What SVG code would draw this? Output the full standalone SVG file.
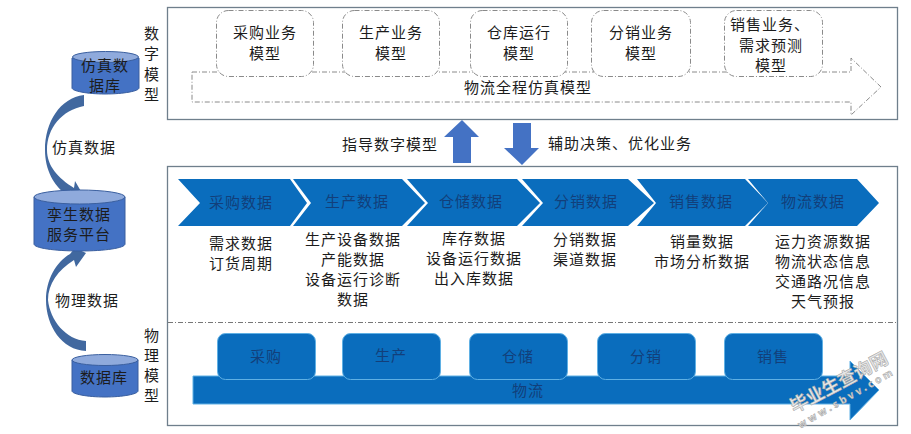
<svg xmlns="http://www.w3.org/2000/svg" width="911" height="434" viewBox="0 0 911 434">
<style>
text{font-family:"Noto Sans CJK SC","Liberation Sans",sans-serif;text-anchor:middle;fill:#1c1c1c}
.t{font-size:15px;letter-spacing:1px}
.d{font-size:15px;letter-spacing:1px;fill:#123f7a}
.frame{fill:#fff;stroke:#6f7f8c;stroke-width:1.3}
.dash{fill:#fff;stroke:#8a8a8a;stroke-width:1;stroke-dasharray:5 2 1 2}
.chev{fill:#0a6dbd}
.blk{fill:#0a6dbd;stroke:#5fb0e4;stroke-width:1}
.cyl{fill:#4472c4;stroke:#3a5f9f;stroke-width:1}
.top{fill:#8faadc;stroke:#3a5f9f;stroke-width:1}
.curve{fill:#41689f}
.big{fill:#4472c4}
.wm{fill:#e6e6e6;stroke:#a0a0a0;stroke-width:.5;font-weight:700}
</style>
<rect width="911" height="434" fill="#fff"/>
<rect id="digital-frame" class="frame" x="167.5" y="7.5" width="730" height="112"/>
<rect id="physical-frame" class="frame" x="167.5" y="166.500" width="730" height="259"/>
<line x1="168" y1="322.500" x2="897" y2="322.500" stroke="#777" stroke-width="1" stroke-dasharray="5 2 1 2"/>

<g id="sim-arrow"><path class="dash" d="M192 72H851V58L881 87L851 115V102H192Z"/><text class="t" x="528" y="93">物流全程仿真模型</text></g>
<g id="m1"><rect class="dash" x="216.500" y="10.500" width="97" height="66" rx="12"/><text class="t" x="265" y="38">采购业务</text><text class="t" x="265" y="59">模型</text></g>
<g id="m2"><rect class="dash" x="342.500" y="10.500" width="97" height="66" rx="12"/><text class="t" x="391" y="38">生产业务</text><text class="t" x="391" y="59">模型</text></g>
<g id="m3"><rect class="dash" x="470.500" y="10.500" width="97" height="66" rx="12"/><text class="t" x="519" y="38">仓库运行</text><text class="t" x="519" y="59">模型</text></g>
<g id="m4"><rect class="dash" x="591.500" y="10.500" width="99" height="66" rx="12"/><text class="t" x="641" y="38">分销业务</text><text class="t" x="641" y="59">模型</text></g>
<g id="m5"><rect class="dash" x="724.500" y="10.500" width="98" height="66" rx="12"/><text class="t" x="770" y="30">销售业务、</text><text class="t" x="771" y="51">需求预测</text><text class="t" x="771" y="71">模型</text></g>

<g id="label-digital"><text class="t" x="152" y="39">数</text><text class="t" x="152" y="59">字</text><text class="t" x="152" y="80">模</text><text class="t" x="152" y="100">型</text></g>
<g id="label-physical"><text class="t" x="152" y="341">物</text><text class="t" x="152" y="361">理</text><text class="t" x="152" y="381">模</text><text class="t" x="152" y="401">型</text></g>

<g id="connectors">
<path class="curve" d="M84 95C60 98 45 122 45 150C45 170 54 186 66 194L74 200L82 193L75 181L74 188C58 178 47 166 47 150C47 128 62 110 84 106Z"/>
<path class="curve" d="M86 351C62 350 46 326 46 300C46 280 56 262 70 254L75 248L86 253L76 267L74 260C58 270 48 284 48 300C50 320 66 340 86 341Z"/>
<path class="big" d="M453 163V137H444L462 120L479 137H471V163Z"/>
<path class="big" d="M513 123H531V148H539L522 165L504 148H513Z"/>
</g>
<text class="t" x="390" y="150">指导数字模型</text>
<text class="t" x="620" y="149">辅助决策、优化业务</text>
<text class="t" x="84" y="153">仿真数据</text>
<text class="t" x="87" y="306">物理数据</text>

<g id="db-sim"><path class="cyl" d="M72 58V88C72 91 87 94 105 94C124 94 139 91 139 88V58Z"/><ellipse class="top" cx="105.500" cy="57" rx="33" ry="5.500"/><text class="t" x="105" y="71">仿真数</text><text class="t" x="105" y="91">据库</text></g>
<g id="db-twin"><path class="cyl" d="M34 197V244C34 248 54 251 80 251C105 251 125 248 125 244V197Z"/><ellipse class="top" cx="79.500" cy="197" rx="45.500" ry="7"/><text class="t" x="79" y="220">孪生数据</text><text class="t" x="79" y="240">服务平台</text></g>
<g id="db-phys"><path class="cyl" d="M72 360V391C72 394 87 397 105 397C123 397 138 394 138 391V360Z"/><ellipse class="top" cx="105" cy="360" rx="33" ry="5.500"/><text class="t" x="104" y="383">数据库</text></g>

<g id="c1"><path class="chev" d="M178 179H290L307 203L290 226H178L200 203Z"/><text class="d" x="241" y="208">采购数据</text></g>
<g id="c2"><path class="chev" d="M293 179H402L425 203L402 226H293L311 203Z"/><text class="d" x="357" y="207">生产数据</text></g>
<g id="c3"><path class="chev" d="M407 179H517L540 203L517 226H407L428 203Z"/><text class="d" x="471" y="207">仓储数据</text></g>
<g id="c4"><path class="chev" d="M522 179H628L654 203L628 226H522L543 203Z"/><text class="d" x="586" y="207">分销数据</text></g>
<g id="c5"><path class="chev" d="M637 179H745L768 203L745 226H637L656 203Z"/><text class="d" x="701" y="207">销售数据</text></g>
<g id="c6"><path class="chev" d="M748 179H857L879 203L857 226H748L768 203Z"/><text class="d" x="813" y="207">物流数据</text></g>

<g id="d1"><text class="t" x="241" y="249">需求数据</text><text class="t" x="241" y="269">订货周期</text></g>
<g id="d2"><text class="t" x="353" y="245">生产设备数据</text><text class="t" x="353" y="265">产能数据</text><text class="t" x="353" y="285">设备运行诊断</text><text class="t" x="353" y="305">数据</text></g>
<g id="d3"><text class="t" x="474" y="244">库存数据</text><text class="t" x="474" y="264">设备运行数据</text><text class="t" x="474" y="284">出入库数据</text></g>
<g id="d4"><text class="t" x="585" y="245">分销数据</text><text class="t" x="585" y="265">渠道数据</text></g>
<g id="d5"><text class="t" x="702" y="247">销量数据</text><text class="t" x="702" y="267">市场分析数据</text></g>
<g id="d6"><text class="t" x="823" y="247">运力资源数据</text><text class="t" x="823" y="267">物流状态信息</text><text class="t" x="823" y="287">交通路况信息</text><text class="t" x="823" y="307">天气预报</text></g>

<g id="log-arrow"><path class="blk" d="M193 376H850V361L879 390L850 420V404H193Z"/><text class="d" x="528" y="396">物流</text></g>
<g id="p1"><rect class="blk" x="217.500" y="333.500" width="98" height="46" rx="8"/><text class="d" x="266" y="362">采购</text></g>
<g id="p2"><rect class="blk" x="342.500" y="333.500" width="98" height="46" rx="8"/><text class="d" x="391" y="361">生产</text></g>
<g id="p3"><rect class="blk" x="469.500" y="333.500" width="98" height="46" rx="8"/><text class="d" x="518" y="362">仓储</text></g>
<g id="p4"><rect class="blk" x="597.500" y="333.500" width="98" height="46" rx="8"/><text class="d" x="646" y="362">分销</text></g>
<g id="p5"><rect class="blk" x="724.500" y="333.500" width="98" height="46" rx="8"/><text class="d" x="773" y="362">销售</text></g>

<g id="watermark"><text class="wm" font-size="18" transform="translate(842 388) rotate(-28)" style="fill:#e6e6e6">毕业生查询网</text><text class="wm" font-size="10" letter-spacing="3" transform="translate(848 401) rotate(-30)" style="fill:#e6e6e6">www.sbvv.com</text></g>
</svg>
